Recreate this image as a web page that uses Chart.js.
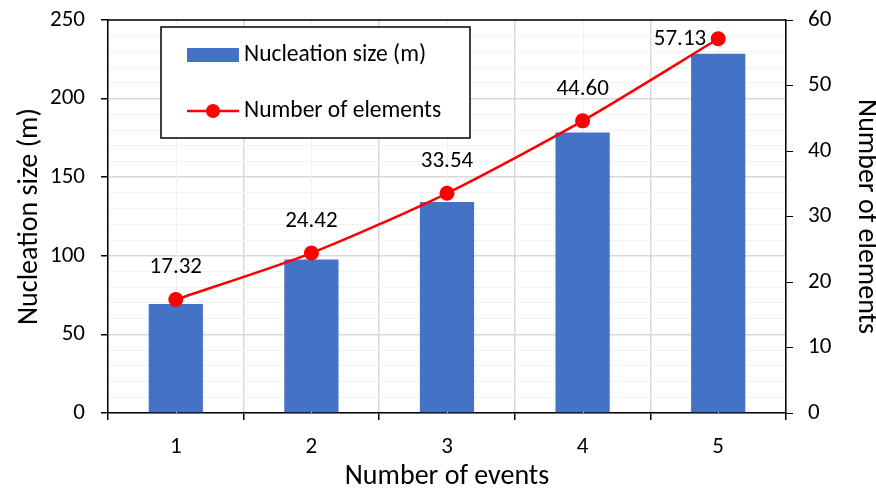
<!doctype html>
<html>
    <head>
        <title>Nucleation size</title>
        <script src="https://cdn.jsdelivr.net/npm/chart.js@4.4.0/dist/chart.umd.min.js"></script>
        <style>
            html, body { margin: 0; padding: 0; background: #fff; }
            #wrap { width: 876px; height: 489px; }
        </style>
    </head>
    <body>
        <div id="wrap"><canvas id="myChart" width="876" height="489"></canvas></div>
        <script>
            // data
            var events = ['1', '2', '3', '4', '5'];
            var nucleationSize = [69.28, 97.68, 134.16, 178.4, 228.52];
            var elementCount = [17.32, 24.42, 33.54, 44.60, 57.13];
            var sizeTicks = [0, 50, 100, 150, 200, 250];

            var FONT = "Carlito, Lato, 'Open Sans', sans-serif";
            var BLUE = '#4472C4';
            var RED = '#FF0000';

            // light minor vertical lines through category centres
            var centreLines = {
                id: 'centreLines',
                beforeDatasetsDraw: function (chart) {
                    var ctx = chart.ctx, area = chart.chartArea, xs = chart.scales.x;
                    ctx.save();
                    ctx.strokeStyle = '#efefef';
                    ctx.lineWidth = 1;
                    for (var i = 0; i < events.length; i++) {
                        var px = Math.round(xs.getPixelForValue(i)) + 0.5;
                        ctx.beginPath();
                        ctx.moveTo(px, area.top);
                        ctx.lineTo(px, area.bottom);
                        ctx.stroke();
                    }
                    // black frame top
                    ctx.strokeStyle = '#000';
                    ctx.lineWidth = 1.5;
                    ctx.beginPath();
                    ctx.moveTo(area.left, area.top);
                    ctx.lineTo(area.right, area.top);
                    ctx.stroke();
                    ctx.restore();
                }
            };

            // value labels on the line + boxed legend inside plot
            var labelsAndLegend = {
                id: 'labelsAndLegend',
                afterDatasetsDraw: function (chart) {
                    var ctx = chart.ctx;
                    var meta = chart.getDatasetMeta(0);
                    ctx.save();
                    ctx.font = '23px ' + FONT;
                    ctx.fillStyle = '#000';
                    ctx.textBaseline = 'middle';
                    for (var i = 0; i < meta.data.length; i++) {
                        var p = meta.data[i];
                        var txt = elementCount[i].toFixed(2);
                        if (i === meta.data.length - 1) {
                            ctx.textAlign = 'right';
                            ctx.fillText(txt, p.x - 12, p.y);
                        } else {
                            ctx.textAlign = 'center';
                            ctx.fillText(txt, p.x, p.y - 32);
                        }
                    }
                    ctx.restore();
                },
                afterDraw: function (chart) {
                    var ctx = chart.ctx;
                    var ds = chart.data.datasets;
                    ctx.save();
                    ctx.fillStyle = '#fff';
                    ctx.fillRect(161, 27, 309, 111);
                    ctx.strokeStyle = '#000';
                    ctx.lineWidth = 1.5;
                    ctx.strokeRect(161, 27, 309, 111);
                    // bar entry
                    ctx.fillStyle = BLUE;
                    ctx.fillRect(187, 48, 52, 14);
                    // line entry
                    ctx.strokeStyle = RED;
                    ctx.lineWidth = 2.5;
                    ctx.beginPath();
                    ctx.moveTo(187, 111);
                    ctx.lineTo(239, 111);
                    ctx.stroke();
                    ctx.fillStyle = RED;
                    ctx.beginPath();
                    ctx.arc(213, 111, 7, 0, Math.PI * 2);
                    ctx.fill();
                    ctx.fillStyle = '#000';
                    ctx.font = '23.5px ' + FONT;
                    ctx.textAlign = 'left';
                    ctx.textBaseline = 'middle';
                    ctx.fillText(ds[1].label, 244, 55);
                    ctx.fillText(ds[0].label, 244, 111);
                    ctx.restore();
                }
            };

            function fixVertical(w) {
                return function (s) {
                    s.width = w;
                    s.paddingTop = 0;
                    s.paddingBottom = 0;
                };
            }

            var ctx = document.getElementById('myChart').getContext('2d');
            var myChart = new Chart(ctx, {
                data: {
                    labels: events,
                    datasets: [{
                        type: 'line',
                        label: 'Number of elements',
                        data: elementCount,
                        yAxisID: 'y1',
                        borderColor: RED,
                        backgroundColor: RED,
                        borderWidth: 2.5,
                        pointRadius: 7.5,
                        pointBackgroundColor: RED,
                        pointBorderWidth: 0,
                        tension: 0.25,
                        order: 1
                    }, {
                        type: 'bar',
                        label: 'Nucleation size (m)',
                        data: nucleationSize,
                        yAxisID: 'y',
                        backgroundColor: BLUE,
                        categoryPercentage: 1,
                        barPercentage: 0.4,
                        order: 2
                    }]
                },
                options: {
                    responsive: false,
                    animation: false,
                    layout: { padding: { top: 20, left: 0, right: 0, bottom: 0 } },
                    plugins: {
                        legend: { display: false },
                        tooltip: { enabled: false }
                    },
                    scales: {
                        x: {
                            offset: true,
                            afterFit: function (s) { s.height = 76; s.paddingLeft = 0; s.paddingRight = 0; },
                            grid: { offset: true, color: '#d9d9d9', tickColor: '#000', tickLength: 7, lineWidth: 1.5 },
                            border: { color: '#000', width: 1.5 },
                            ticks: { color: '#000', font: { family: FONT, size: 23 }, padding: 13 },
                            title: { display: true, text: 'Number of events', color: '#000', font: { family: FONT, size: 28, lineHeight: 1 }, padding: { top: 0, bottom: -2 } }
                        },
                        y: {
                            position: 'left',
                            min: 0,
                            max: sizeTicks[sizeTicks.length - 1],
                            afterFit: fixVertical(108),
                            grid: {
                                color: function (c) { return c.tick.value % 50 === 0 ? '#d9d9d9' : '#f2f2f2'; },
                                lineWidth: function (c) { return c.tick.value % 50 === 0 ? 1.5 : 1; },
                                tickColor: function (c) { return c.tick.value % 50 === 0 ? '#000' : 'rgba(0,0,0,0)'; },
                                tickLength: 7
                            },
                            border: { color: '#000', width: 1.5 },
                            ticks: {
                                stepSize: 10,
                                autoSkip: false,
                                maxTicksLimit: 40,
                                padding: 16,
                                color: '#000',
                                font: { family: FONT, size: 23 },
                                callback: function (v) { return sizeTicks.indexOf(v) >= 0 ? v : ''; }
                            },
                            title: { display: true, text: 'Nucleation size (m)', color: '#000', font: { family: FONT, size: 28, lineHeight: 1 }, padding: { top: 16, bottom: 0 } }
                        },
                        y1: {
                            position: 'right',
                            min: 0,
                            max: 60,
                            afterFit: fixVertical(90),
                            grid: { drawOnChartArea: false, tickColor: '#000', tickLength: 7 },
                            border: { color: '#000', width: 1.5 },
                            ticks: { stepSize: 10, padding: 15, color: '#000', font: { family: FONT, size: 23 } },
                            title: { display: true, text: 'Number of elements', color: '#000', font: { family: FONT, size: 28, lineHeight: 1 }, padding: { top: -4, bottom: 0 } }
                        }
                    }
                },
                plugins: [centreLines, labelsAndLegend]
            });
        </script>
    </body>
</html>
